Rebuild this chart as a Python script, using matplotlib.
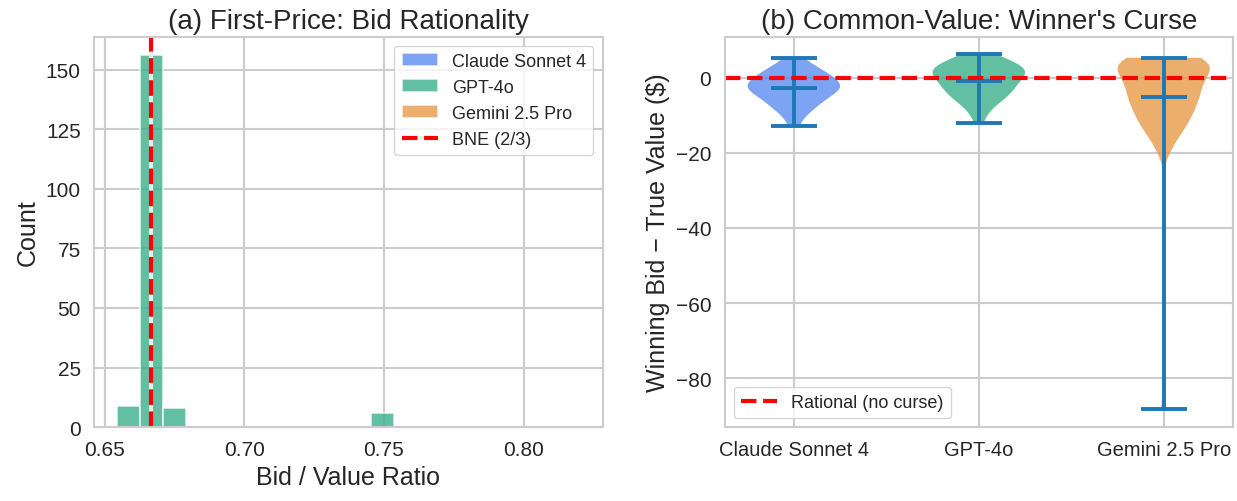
import numpy as np
import matplotlib
matplotlib.use("Agg")
import matplotlib.pyplot as plt
import seaborn as sns

# models and colours
models = ["Claude Sonnet 4", "GPT-4o", "Gemini 2.5 Pro"]
colors = ["#5B8DEF", "#3CB08A", "#E69A48"]

# (a) bid / value ratio histogram, 20 bins
bin_lo, bin_hi, n_bins = 0.6545, 0.82, 20
claude_counts = [0] * 20
gpt_counts = [9, 156, 8, 0, 0, 0, 0, 0, 0, 0, 0, 6, 0, 0, 0, 0, 0, 0, 0, 0]
gemini_counts = [0] * 20
bne = 2 / 3

# (b) winning bid - true value ($)
claude_curse = [5.25, 3.5, 2.5, 2.0, 1.5, 1.0, 0.5, 0.0, -0.5, -1.0, -1.5, -2.0, -2.0,
                -2.5, -2.5, -3.0, -3.0, -3.5, -4.0, -4.5, -5.0, -6.0, -6.5, -7.0, -8.0,
                -8.5, -10.0, -12.9]
gpt_curse = [6.2, 5.0, 4.5, 4.0, 4.0, 3.5, 3.0, 3.0, 2.5, 2.5, 2.5, 2.0, 2.0, 2.0,
             1.5, 1.5, 1.5, 1.0, 1.0, 0.5, 0.0, -0.5, -1.0, -1.5, -2.0, -2.0, -2.5,
             -3.0, -3.5, -3.5, -4.0, -4.5, -4.5, -5.0, -5.5, -6.0, -7.0, -8.0, -9.5,
             -12.1]
gemini_curse = [5.3, 5.2, 5.0, 5.0, 4.8, 4.5, 4.5, 4.2, 4.0, 3.8, 3.5, 3.0, 3.0, 2.5,
                2.0, 1.5, 1.0, 0.5, 0.0, -0.5, -1.0, -1.5, -2.0, -2.5, -3.0, -3.5,
                -4.0, -4.5, -5.0, -5.5, -6.0, -6.5, -7.0, -7.5, -8.0, -9.0, -9.5,
                -10.0, -11.0, -11.5, -12.0, -13.0, -13.5, -14.5, -16.0, -17.5, -19.5,
                -88.3]

sns.set_theme(style="whitegrid")
plt.rcParams["font.family"] = ["Liberation Sans", "DejaVu Sans"]
plt.rcParams["axes.linewidth"] = 1.5
plt.rcParams["grid.linewidth"] = 1.5

fig, (ax1, ax2) = plt.subplots(1, 2, figsize=(12.37, 5.02), dpi=100)
fig.subplots_adjust(left=0.076, right=0.9968, bottom=0.147, top=0.925, wspace=0.24)

# --- (a) histogram
edges = np.linspace(bin_lo, bin_hi, n_bins + 1)
centers = (edges[:-1] + edges[1:]) / 2
for name, col, counts in zip(models, colors, [claude_counts, gpt_counts, gemini_counts]):
    ax1.hist(centers, bins=edges, weights=counts, color=col, alpha=0.8,
             edgecolor="white", linewidth=1.2, label=name)
ax1.axvline(bne, color="red", linestyle="--", linewidth=3, gapcolor="#dff2eb",
            label="BNE (2/3)")
ax1.set_xticks([0.65, 0.70, 0.75, 0.80])
ax1.set_yticks([0, 25, 50, 75, 100, 125, 150])
ax1.set_xlabel("Bid / Value Ratio", fontsize=18)
ax1.set_ylabel("Count", fontsize=18)
ax1.set_title("(a) First-Price: Bid Rationality", fontsize=20)
ax1.tick_params(labelsize=15)
ax1.legend(loc="upper right", fontsize=13)

# --- (b) violins
curse = [claude_curse, gpt_curse, gemini_curse]
bws = [None, 0.6, 0.22]
for i, (data, col, bw) in enumerate(zip(curse, colors, bws)):
    parts = ax2.violinplot([data], positions=[i + 1], showmeans=True, bw_method=bw)
    for body in parts["bodies"]:
        body.set_facecolor(col)
        body.set_edgecolor("none")
        body.set_alpha(0.8)
    for key in ["cbars", "cmins", "cmaxes", "cmeans"]:
        parts[key].set_color("#1f77b4")
        parts[key].set_linewidth(2.8)
ax2.axhline(0, color="red", linestyle="--", linewidth=3, label="Rational (no curse)")
ax2.set_xticks([1, 2, 3])
ax2.set_xticklabels(models)
ax2.set_yticks([0, -20, -40, -60, -80])
ax2.set_ylabel("Winning Bid − True Value ($)", fontsize=18)
ax2.set_title("(b) Common-Value: Winner's Curse", fontsize=20)
ax2.tick_params(axis="y", labelsize=15)
ax2.tick_params(axis="x", labelsize=14.5)
ax2.legend(loc="lower left", fontsize=13)

fig.savefig("out.png", dpi=100)
